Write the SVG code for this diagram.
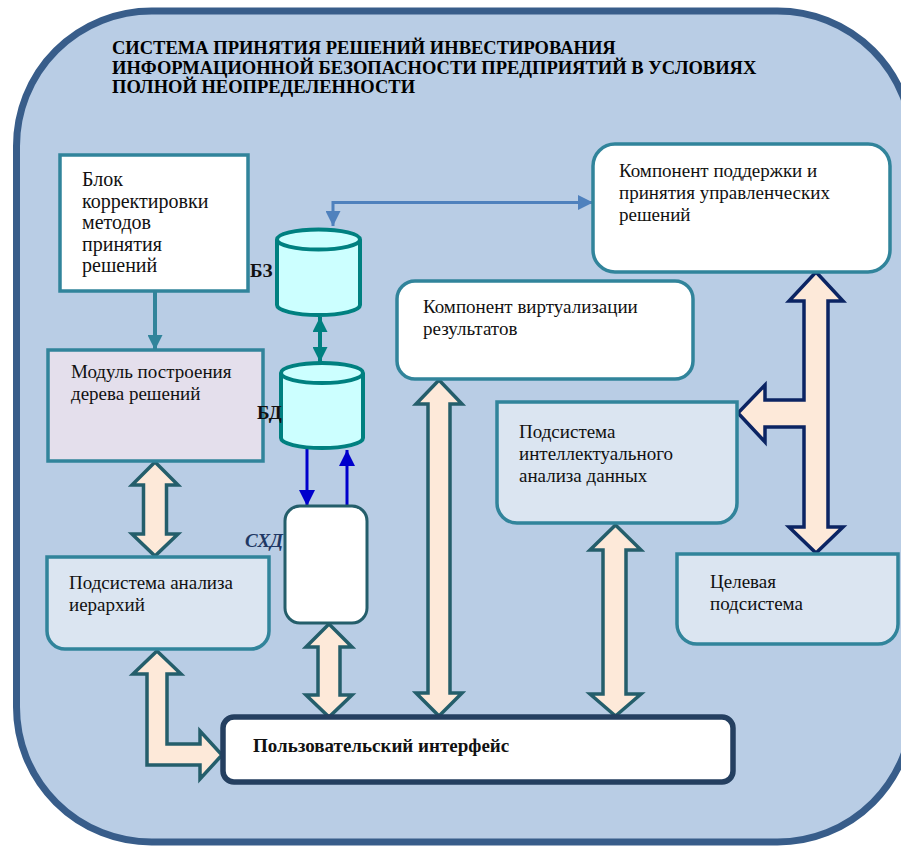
<svg xmlns="http://www.w3.org/2000/svg" width="901" height="846" viewBox="0 0 901 846" font-family="'Liberation Serif', 'Times New Roman', 'DejaVu Serif', serif">
  <defs>
    <style>
      text { font-family: 'Liberation Serif', 'Times New Roman', 'DejaVu Serif', serif; font-size: 19px; fill: #111; }
      .title { font-weight: bold; font-size: 18.5px; fill: #000; }
      .bold { font-weight: bold; }
      .big { font-size: 20px; }
      .box { stroke: #31849b; stroke-width: 3.5; }
      .white { fill: #ffffff; }
      .pale { fill: #dbe5f1; }
      .lilac { fill: #e4dfec; }
      .fat { fill: #fde9d9; stroke: #245e6b; stroke-width: 3.5; stroke-linejoin: miter; }
      .fatnavy { fill: #fde9d9; stroke: #0b2463; stroke-width: 3.5; stroke-linejoin: miter; }
      .cyl { fill: #ccffff; stroke: #008080; stroke-width: 4; }
    </style>
    <marker id="headBlue" viewBox="0 0 10 10" refX="10" refY="5" markerUnits="userSpaceOnUse" markerWidth="15" markerHeight="15" orient="auto-start-reverse">
      <path d="M0,0 L10,5 L0,10 z" fill="#4f81bd"/>
    </marker>
    <marker id="headTeal" viewBox="0 0 10 10" refX="10" refY="5" markerUnits="userSpaceOnUse" markerWidth="15" markerHeight="15" orient="auto-start-reverse">
      <path d="M0,0 L10,5 L0,10 z" fill="#31849b"/>
    </marker>
    <marker id="headGreen" viewBox="0 0 10 10" refX="10" refY="5" markerUnits="userSpaceOnUse" markerWidth="15" markerHeight="15" orient="auto-start-reverse">
      <path d="M0,0 L10,5 L0,10 z" fill="#008080"/>
    </marker>
    <marker id="headDeep" viewBox="0 0 10 10" refX="10" refY="5" markerUnits="userSpaceOnUse" markerWidth="16" markerHeight="16" orient="auto-start-reverse">
      <path d="M0,0 L10,5 L0,10 z" fill="#0000cc"/>
    </marker>
  </defs>

  <!-- outer frame; the right edge runs past the page -->
  <rect id="frame" x="16.5" y="11" width="896" height="831" rx="135" ry="135" fill="#b9cde5" stroke="#385d8a" stroke-width="7"/>

  <g id="title">
    <text class="title" x="112" y="54">СИСТЕМА ПРИНЯТИЯ РЕШЕНИЙ ИНВЕСТИРОВАНИЯ</text>
    <text class="title" x="112" y="73.5">ИНФОРМАЦИОННОЙ БЕЗОПАСНОСТИ ПРЕДПРИЯТИЙ В УСЛОВИЯХ</text>
    <text class="title" x="112" y="93">ПОЛНОЙ НЕОПРЕДЕЛЕННОСТИ</text>
  </g>

  <!-- connectors -->
  <g id="connectors">
    <path d="M333,226 V202.5 H593" fill="none" stroke="#4f81bd" stroke-width="3" marker-start="url(#headBlue)" marker-end="url(#headBlue)"/>
    <line x1="155" y1="291" x2="155" y2="350" stroke="#31849b" stroke-width="4" marker-end="url(#headTeal)"/>
    <line x1="320" y1="317" x2="320" y2="362" stroke="#008080" stroke-width="4" marker-start="url(#headGreen)" marker-end="url(#headGreen)"/>
    <line x1="307" y1="448" x2="307" y2="506" stroke="#0000cc" stroke-width="3" marker-end="url(#headDeep)"/>
    <line x1="347" y1="506" x2="347" y2="450" stroke="#0000cc" stroke-width="3" marker-end="url(#headDeep)"/>

    <!-- block arrows -->
    <polygon class="fat" points="155,462 178,485 166.5,485 166.5,534 178,534 155,556 132,534 143.5,534 143.5,485 132,485"/>
    <polygon class="fat" points="329,624 352,647 340,647 340,695 352,695 329,717 306,695 318,695 318,647 306,647"/>
    <polygon class="fat" points="439,380 462,404 450,404 450,693 462,693 439,716 416,693 428,693 428,404 416,404"/>
    <polygon class="fat" points="615.5,525 641,550 626,550 626,694 641,694 615.5,716 590,694 603,694 603,550 590,550"/>
    <polygon class="fat" points="157,651 181,674 167,674 167,744 200,744 200,731 222,755 200,779 200,765 147,765 147,674 133,674"/>
    <polygon class="fatnavy" points="816,272 843,301 828,301 828,527 843,527 816,553 789,527 804,527 804,427 765,427 765,442 738,413 765,385 765,400 804,400 804,301 789,301"/>
  </g>

  <g id="block-correction">
    <rect class="box white" x="60" y="155" width="188" height="136"/>
    <text class="big" x="82" y="186">Блок</text>
    <text class="big" x="82" y="207.5">корректировки</text>
    <text class="big" x="82" y="229">методов</text>
    <text class="big" x="82" y="250.5">принятия</text>
    <text class="big" x="82" y="272">решений</text>
  </g>

  <g id="tree-module">
    <rect class="box lilac" x="48" y="350" width="215" height="111"/>
    <text x="71" y="378">Модуль построения</text>
    <text x="71" y="400">дерева решений</text>
  </g>

  <g id="knowledge-base">
    <path class="cyl" d="M277,239.5 V305 A41.5,10 0 0 0 360,305 V239.5"/>
    <ellipse class="cyl" cx="318.5" cy="239.5" rx="41.5" ry="10"/>
    <text class="bold" x="250" y="277">БЗ</text>
  </g>

  <g id="database">
    <path class="cyl" d="M281,373 V438 A41,10 0 0 0 363,438 V373"/>
    <ellipse class="cyl" cx="322" cy="373" rx="41" ry="10"/>
    <text class="bold" x="257" y="419">БД</text>
  </g>

  <g id="storage">
    <rect x="285" y="506" width="82" height="117" rx="15" ry="15" fill="#ffffff" stroke="#245e6b" stroke-width="3"/>
    <text x="245" y="547" font-weight="bold" font-style="italic" style="fill:#1f3864">СХД</text>
  </g>

  <g id="decision-support">
    <rect class="box white" x="593" y="144" width="297" height="128" rx="22" ry="22"/>
    <text x="619" y="177">Компонент поддержки и</text>
    <text x="619" y="199">принятия управленческих</text>
    <text x="619" y="221">решений</text>
  </g>

  <g id="visualization">
    <rect class="box white" x="397" y="281" width="296" height="98" rx="18" ry="18"/>
    <text x="423" y="313">Компонент виртуализации</text>
    <text x="423" y="335">результатов</text>
  </g>

  <g id="data-mining">
    <path class="box pale" d="M497,402 H737 V503 A20,20 0 0 1 717,523 H517 A20,20 0 0 1 497,503 Z"/>
    <text x="519" y="437.5">Подсистема</text>
    <text x="519" y="460">интеллектуального</text>
    <text x="519" y="482">анализа данных</text>
  </g>

  <g id="hierarchy-analysis">
    <path class="box pale" d="M47,557 H269 V631 A18,18 0 0 1 251,649 H65 A18,18 0 0 1 47,631 Z"/>
    <text x="69" y="588.5">Подсистема анализа</text>
    <text x="69" y="611">иерархий</text>
  </g>

  <g id="target-subsystem">
    <path class="box pale" d="M677,554 H898 V624 A20,20 0 0 1 878,644 H697 A20,20 0 0 1 677,624 Z"/>
    <text x="710" y="588">Целевая</text>
    <text x="710" y="610">подсистема</text>
  </g>

  <g id="user-interface">
    <rect x="223" y="717" width="510" height="65" rx="11" ry="11" fill="#ffffff" stroke="#243f60" stroke-width="5.5"/>
    <text class="bold" x="253" y="752">Пользовательский интерфейс</text>
  </g>
</svg>
